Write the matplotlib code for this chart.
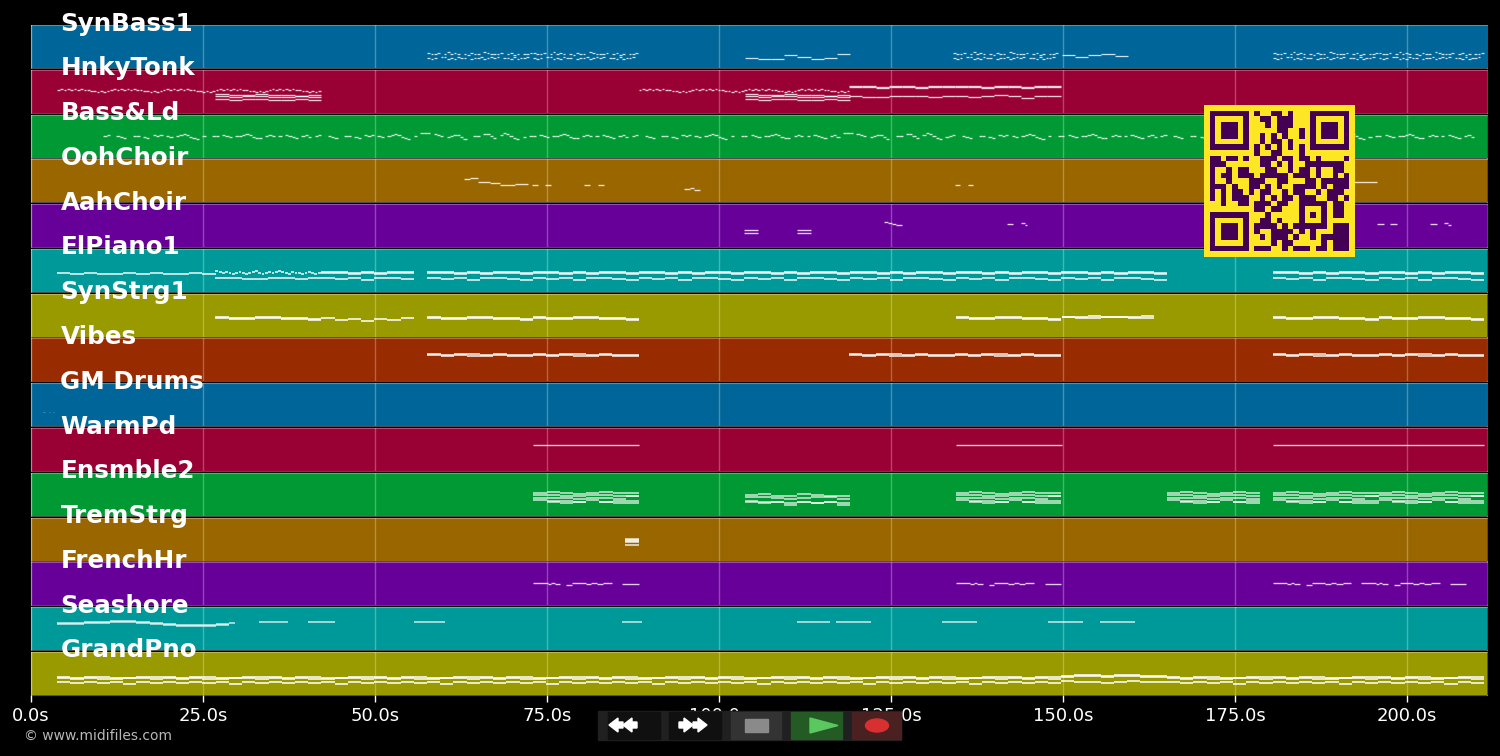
import matplotlib
matplotlib.use("Agg")
import matplotlib.pyplot as plt
from matplotlib.patches import Rectangle, Polygon, Ellipse

_ = None
W, H = 1500, 756
track_names = ["SynBass1", "HnkyTonk", "Bass&Ld", "OohChoir", "AahChoir", "ElPiano1", "SynStrg1",
               "Vibes", "GM Drums", "WarmPd", "Ensmble2", "TremStrg", "FrenchHr", "Seashore", "GrandPno"]
track_colors = ["#006699", "#990033", "#009933", "#996600", "#660099", "#009999", "#999900", "#992B00",
                "#006699", "#990033", "#009933", "#996600", "#660099", "#009999", "#999900"]
tick_seconds = [0, 25, 50, 75, 100, 125, 150, 175, 200]

# --- note data, in MIDI-like pitch -----------------------------------------
Q = 0.48   # quarter-note step, seconds
B = 1.92   # half-bar step, seconds

bass_hi = [45, 42, 42, 45, _, 42, 48, 42, 45, 42, _, 42, 39, 45, 42, 42, _, 48, 45, 42, 42, 42, 45, _, 42, 45, 39, 42, _, 42, 42, 45]
bass_lo = [30, 27, 30, _, 33, 33, 27, 30, 27, 33, 30, 30, _, 27, 30, 30, 33, 27, 30, 33, 30, 33, _, 30, 30, 27, 33, 27, 30, 30, 33, _]
bass_long_a = [30, 27, 27, 39, 33, 27, 30, 42]
bass_long_b = [39, 33, 39, 42, 36, 36, 36, 36]

wave = [68, 71, 68, 71, 68, 71, 68, 71, 68, 68, 65, 65, 62, 65, 62, 65]
honk_hi = [56, 53, 53, 56, 53, 53, 50, 53]
honk_mid = [50, 47, 50, 50, 47, 47, 50, 47]
honk_lo = [41, 38, 41, 41, 38, 38, 41, 38]
honk_thick_a = [80, 80, 77, 80, 80, 77, 80, 80, 80, 80, 77, 80, 80, 77, 80, 80]
honk_thick_b = [77, 77, 74, 77, 77, 74, 77, 77, 77, 77, 74, 77, 77, 74, 77, 77]
honk_under = [50, 47, 47, 50, 50, 50, 47, 50, 50, 47, 50, 53, 50, 44, 50, 50]

lead_a = [62, 65, _, _, 62, 59, 56, _, _, 62, 62, _, 59, 56, _, 65, 62, 65, _, 62, 59, _, 62, 65, 68, 65, 59, 56, 53, _, 62, _]
lead_b = [_, 62, 62, _, 65, 62, 59, _, 62, 62, 65, 68, 65, 59, 56, 56, _, 62, 65, 62, _, 62, _, 65, 62, 59, 56, _, 62, 65, 59, _]
lead_c = [71, 71, 71, _, 68, 65, 62, _, 59, 62, 65, 65, 59, 53, _, _, 62, 62, _, 68, 68, 62, 56, _, 65, 71, 68, 62, 56, 53, _, 59]

ooh_notes = [(62.9, 63.8, 68), (63.8, 65.0, 71), (65.0, 66.7, 62), (66.7, 68.2, 59), (68.2, 70.3, 53), (70.3, 72.2, 56),
             (72.8, 73.7, 53), (74.7, 75.6, 53), (80.4, 81.3, 53), (82.4, 83.3, 53), (94.9, 95.8, 41), (95.8, 96.4, 44),
             (96.4, 97.2, 38), (134.3, 135.0, 53), (136.2, 136.9, 53), (192.3, 195.6, 60)]
aah_notes = [(103.6, 105.7, 50), (103.6, 105.7, 42), (111.3, 113.4, 50), (111.3, 113.4, 42), (124.0, 124.6, 74),
             (124.6, 125.1, 71), (125.1, 125.7, 68), (125.7, 126.6, 65), (141.9, 142.7, 68), (143.9, 144.4, 71),
             (144.4, 144.8, 65), (195.6, 196.7, 68), (197.5, 198.5, 68), (203.3, 204.4, 68), (205.4, 205.9, 71), (205.9, 206.3, 65)]

piano_thin = [53, 50, 53, 50, 50, 53, 50, 53, 50, 50, 53, 50]
piano_wave = [59, 56, 53, 56, 53, 50, 53, 56, 53, 50, 53, 56, 59, 53, 50, 53, 56, 53, 56, 59, 56, 53, 50, 56, 53, 53, 50, 53, 56, 53, 50, 53]
piano_wave_lo = [38, 38, 35, 35, 38, 38, 35, 38]
ep_a = [56, 56, 53, 56, 53, 56, 56, 53]
ep_b = [53, 53, 50, 53, 50, 53, 53, 50]
ep_c = [38, 35, 38, 32, 38, 38, 35, 32]

syn_a = [56, 53, 53, 56, 56, 53, 53, 50]
syn_b = [53, 50, 50, 53, 53, 50, 50, 47]
syn_thin = [53, 47, 50, 44, 50, 47, 53, 47]
syn_high = [56, 56, 59, 56, 56, 56, 59, 56]

vibes_a = [77, 74, 77, 77, 74, 77, 74, 74]
vibes_b = [74, 71, 74, 71, 71, 74, 71, 71]

ens_1 = [68, 71, 68, 65, 68, 71, 68, 68]
ens_2 = [62, 62, 59, 59, 62, 62, 59, 59]
ens_3 = [53, 53, 53, 50, 53, 53, 50, 59]
ens_4 = [47, 44, 44, 41, 47, 41, 44, 44]
ens_5 = [_, 41, 38, 41, _, 41, 38, 38]
ens_shift_1 = [62, 65, 59, 59, 65, 62, 59, 59]
ens_shift_2 = [56, 56, 53, 50, 53, 56, 56, 50]
ens_shift_3 = [44, 41, 41, 38, 41, 38, 41, 38]
ens_shift_4 = [41, 38, 41, 32, 41, 38, 41, 32]

trem_notes = [(86.3, 88.3, 65), (86.3, 88.3, 62), (86.3, 88.3, 59), (86.3, 88.3, 56), (86.3, 88.3, 47)]
horn_notes = [(73.0, 75.1, 65), (75.1, 75.6, 62), (75.6, 76.1, 65), (76.1, 76.9, 62), (77.8, 78.6, 59), (78.6, 80.6, 65),
              (80.6, 81.4, 62), (81.4, 82.2, 65), (82.2, 83.1, 62), (83.1, 84.4, 65), (85.9, 88.3, 62)]
horn_starts = [0.0, 61.4, 107.5, 120.3]

shore_hi = [77, 79, 80, 82, 83, 83, 80, 77, 74, 73, 71, 71, 74]
shore_lo = [74, 76, 77, 79, 80, 80, 77, 74, 71, 70, 68, 68, 71]
shore_notes = [(33.1, 37.4), (40.3, 44.2), (55.7, 60.2), (85.9, 88.8), (111.3, 116.1), (117.0, 122.1), (132.4, 137.5),
               (147.8, 152.9), (155.4, 160.5)]
shore_tail = (28.8, 29.7, 77)
shore_pitch = 80

pno_a = [50, 47, 50, 50, 47, 47, 50, 50]
pno_b = [47, 44, 47, 44, 44, 47, 47, 44]
pno_c = [35, 32, 35, 32, 35, 29, 35, 32]
pno_high_a = [53, 56, 56, 53, 56, 56, 53, 53]
pno_high_b = [50, 53, 53, 50, 53, 53, 50, 50]
pno_high_c = [38, 35, 35, 32, 35, 38, 35, 35]

drum_notes = [(1.8, 2.0, 41), (2.6, 2.8, 41), (3.2, 3.4, 41)]
pad_notes = [(73.0, 88.3, 76), (134.4, 149.8, 76), (180.5, 211.2, 76)]

qr_rows = [
    "#######.#..##.#...#######",
    "#.....#..##.###...#.....#",
    "#.###.#...#.###...#.###.#",
    "#.###.#.....##..#.#.###.#",
    "#.###.#..#.#.#..#.#.###.#",
    "#.....#..#.##.#...#.....#",
    "#######.#.#.#.#.#.#######",
    "........#..##...#........",
    "##.##.#..###.##.##.#....#",
    "###......##.#.#..#######.",
    "#..#.##...##..#.##.#..##.",
    "#.##.###.#####.###.#..#.#",
    "#..#...###..##...##.#####",
    "###.#..##.#.#..####.#.###",
    "#.#.##.#.##..#.##..#.###.",
    "#.#.###..#.#.##.###..##.#",
    "..#..##.###.##..#####.##.",
    "........##.##...#...#.##.",
    "#######...#.....#.#.#.##.",
    "#.....#..##.#...#...#....",
    "#.###.#.####.#.######.###",
    "#.###.#.#..####.#.#...###",
    "#.###.#..#.###.#..#.#####",
    "#.....#....#.##.....#.###",
    "#######.###..#.###.##.###",
]

def grid_notes(start, step, pitches, gate=1.0):
    return [(start + i * step, start + (i + gate) * step, p) for i, p in enumerate(pitches) if p is not None]

def shifted(notes, offset):
    return [(a + offset, b + offset, p) for a, b, p in notes]

tracks = [[] for _ in track_names]

# SynBass1
for t in (57.6, 134.0, 180.5):
    n = 2 if t != 134.0 else 1
    tracks[0] += grid_notes(t, Q, bass_hi * n, 0.8) + grid_notes(t, Q, bass_lo * n, 0.8)
tracks[0] += grid_notes(103.7, B, bass_long_a) + grid_notes(149.8, B, bass_long_b[:5])
# HnkyTonk
tracks[1] += grid_notes(3.8, Q, wave * 5, 0.8) + grid_notes(88.3, Q, wave * 4, 0.8)
for t in (26.8, 103.7):
    tracks[1] += grid_notes(t, B, honk_hi) + grid_notes(t, B, honk_mid) + grid_notes(t, B, honk_lo)
tracks[1] += grid_notes(118.9, B, honk_thick_a) + grid_notes(118.9, B, honk_thick_b) + grid_notes(118.9, B, honk_under)
# Bass&Ld
lead_song = lead_a + lead_b + lead_a + lead_c + lead_b + lead_a + lead_b + lead_c + lead_a + lead_b + lead_a + lead_c + lead_b
tracks[2] += grid_notes(10.5, Q, lead_song[:418])
tracks[3] += ooh_notes
tracks[4] += aah_notes
# ElPiano1
tracks[5] += grid_notes(3.8, B, piano_thin) + grid_notes(26.8, Q, piano_wave, 0.85) + grid_notes(26.8, B, piano_wave_lo)
for t, n in ((42.2, 1), (57.6, 7), (180.5, 2)):
    a = (ep_a * n)[: (7 if t == 42.2 else 8 * n)]
    b = (ep_b * n)[: len(a)]
    c = (ep_c * n)[: len(a)]
    tracks[5] += grid_notes(t, B, a) + grid_notes(t, B, b) + grid_notes(t, B, c)
# SynStrg1
tracks[6] += grid_notes(26.8, B, syn_a) + grid_notes(26.8, B, syn_b) + grid_notes(42.2, B, syn_thin[:7])
for t, n in ((57.6, 2), (134.4, 1), (180.5, 2)):
    tracks[6] += grid_notes(t, B, syn_a * n) + grid_notes(t, B, syn_b * n)
tracks[6] += grid_notes(149.8, B, syn_high[:7]) + grid_notes(149.8, B, syn_a[:7])
# Vibes
for t, n in ((57.6, 2), (118.9, 2), (180.5, 2)):
    tracks[7] += grid_notes(t, B, vibes_a * n) + grid_notes(t, B, vibes_b * n)
tracks[8] += drum_notes
tracks[9] += pad_notes
# Ensmble2
for t, n, cut in ((73.0, 1, 8), (134.4, 1, 8), (165.1, 1, 7), (180.5, 2, 16)):
    for v in (ens_1, ens_2, ens_3, ens_4, ens_5):
        tracks[10] += grid_notes(t, B, (v * n)[:cut])
for v in (ens_shift_1, ens_shift_2, ens_shift_3, ens_shift_4):
    tracks[10] += grid_notes(103.7, B, v)
tracks[11] += trem_notes
# FrenchHr
for off in horn_starts:
    tracks[12] += shifted(horn_notes if off != 107.5 else horn_notes[:-1], off)
# Seashore
tracks[13] += grid_notes(3.8, B, shore_hi) + grid_notes(3.8, B, shore_lo) + [shore_tail]
tracks[13] += [(a, b, shore_pitch) for a, b in shore_notes]
# GrandPno
tracks[14] += grid_notes(3.8, B, pno_a * 9 + pno_a[:4] + pno_high_a + pno_a * 3)
tracks[14] += grid_notes(3.8, B, pno_b * 9 + pno_b[:4] + pno_high_b + pno_b * 3)
tracks[14] += grid_notes(3.8, B, pno_c * 9 + pno_c[:4] + pno_high_c + pno_c * 3)

# small per-track vertical correction, in pitch units, and note thickness
track_lift = [0, 0, 3, 0, 0, 3, 4, 5, 0, 0, 0, 0, 3, 3, 4]
track_lw = [0.9, 1.0, 1.0, 1.0, 1.0, 1.3, 1.4, 1.3, 0.8, 1.0, 1.1, 1.2, 1.0, 1.1, 1.4]

# --- figure ----------------------------------------------------------------
fig = plt.figure(figsize=(W / 100, H / 100), dpi=100, facecolor="black")
plt.rcParams["font.family"] = "DejaVu Sans"

def box(x0, y0, x1, y1):
    return [x0 / W, 1 - y1 / H, (x1 - x0) / W, (y1 - y0) / H]

TOP, PITCH, ROW = 25.0, 44.78, 43.0
for i, (name, col, notes) in enumerate(zip(track_names, track_colors, tracks)):
    top = TOP + PITCH * i
    ax = fig.add_axes(box(31, top, 1487, top + ROW), facecolor=col)
    ax.set_xlim(0, 211.6)
    ax.set_ylim(0, 128)
    ax.set_yticks([])
    ax.set_xticks(tick_seconds)
    ax.grid(axis="x", color="white", alpha=0.28, lw=1)
    ax.set_axisbelow(True)
    for s in ax.spines.values():
        s.set_color((1, 1, 1, 0.3))
        s.set_linewidth(0.8)
    if i == len(track_names) - 1:
        ax.set_xticklabels([f"{t}.0s" for t in tick_seconds], color="white", fontsize=13)
        ax.tick_params(axis="x", colors="white", length=5, width=1, pad=4)
    else:
        ax.tick_params(axis="x", length=0, labelbottom=False)
    alpha = 0.25 if name == "GM Drums" else 0.8
    if notes:
        ax.hlines([n[2] + track_lift[i] for n in notes], [n[0] for n in notes], [n[1] for n in notes],
                  color="white", alpha=alpha, lw=track_lw[i], zorder=3)
    fig.text(60.5 / W, 1 - (top - 1.5) / H, name, color="white", fontsize=17.7, fontweight="bold",
             va="center", ha="left", zorder=20)

fig.text(24 / W, 1 - 736 / H, "\u00a9 www.midifiles.com", color="#b8b8b8", fontsize=10, va="center", ha="left", zorder=20)

# QR code (viridis)
qr = fig.add_axes(box(1204, 105, 1355, 257), zorder=30)
grid = [[1] * 27] + [[1] + [0 if c == "#" else 1 for c in r.ljust(25, ".")[:25]] + [1] for r in qr_rows] + [[1] * 27]
qr.imshow(grid, cmap="viridis", vmin=0, vmax=1, interpolation="nearest", aspect="auto")
qr.axis("off")

# playback controls overlay, in pixel coordinates
ui = fig.add_axes([0, 0, 1, 1], zorder=40)
ui.set_xlim(0, W)
ui.set_ylim(H, 0)
ui.axis("off")
ui.patch.set_alpha(0)
ui.add_patch(Rectangle((598, 711), 303, 29, color="#202020"))
for x0, x1, c in ((608, 660, "#101010"), (669, 721, "#101010"), (731, 781, "#333333"), (791, 842, "#245a24"), (852, 901, "#4a2020")):
    ui.add_patch(Rectangle((x0, 712), x1 - x0, 27, color=c))
for x in (609, 623):
    ui.add_patch(Polygon([(x, 725), (x + 9, 718), (x + 9, 722), (x + 14, 722), (x + 14, 728), (x + 9, 728), (x + 9, 732)], color="white"))
for x in (707, 693):
    ui.add_patch(Polygon([(x, 725), (x - 9, 718), (x - 9, 722), (x - 14, 722), (x - 14, 728), (x - 9, 728), (x - 9, 732)], color="white"))
ui.add_patch(Rectangle((745, 719), 23, 13, color="#8a8a8a"))
ui.add_patch(Polygon([(810, 718), (838, 725.5), (810, 733)], color="#5ac85f"))
ui.add_patch(Ellipse((877, 725.5), 23, 13, color="#d83030"))

fig.savefig("out.png", dpi=100, facecolor="black")
